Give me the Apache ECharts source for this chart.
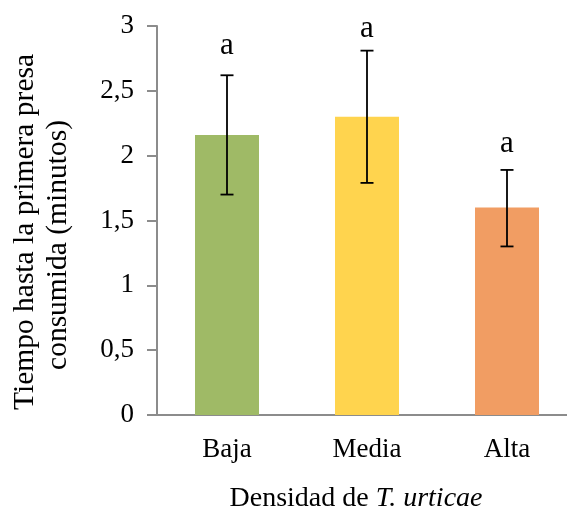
<!DOCTYPE html>
<html>
<head>
<meta charset="utf-8">
<script src="https://cdn.jsdelivr.net/npm/echarts@6/dist/echarts.min.js"></script>
<style>
  html, body { margin: 0; padding: 0; background: #fff; }
  #chart { width: 567px; height: 508px; }
</style>
</head>
<body>
<div id="chart"></div>
<script>
// Densidad de presas y tiempo hasta la primera presa consumida
const categories = ['Baja', 'Media', 'Alta'];
const means = [2.16, 2.30, 1.60];
const errLow = [1.70, 1.79, 1.30];
const errHigh = [2.62, 2.81, 1.89];
const letters = ['a', 'a', 'a'];
const letterLevel = [2.85, 2.98, 2.09];
const barColors = ['#9FBA66', '#FFD44E', '#F19D63'];

const FONT = '"Liberation Serif", "Times New Roman", serif';

const chart = echarts.init(document.getElementById('chart'), null, { renderer: 'canvas' });

const errData = categories.map((c, i) => [i, errLow[i], errHigh[i]]);
const letterData = categories.map((c, i) => [i, letterLevel[i]]);

chart.setOption({
  animation: false,
  backgroundColor: '#ffffff',
  grid: { left: 157, top: 26, width: 420, bottom: 93, containLabel: false, outerBoundsMode: 'none' },
  xAxis: {
    type: 'category',
    data: categories,
    axisLine: { lineStyle: { color: '#8c8c8c', width: 2 } },
    axisTick: { show: false },
    axisLabel: { color: '#000', fontFamily: FONT, fontSize: 27, margin: 21 },
    name: '{n|Densidad de }{i|T. urticae}',
    nameLocation: 'middle',
    nameGap: 70,
    nameTextStyle: {
      padding: [0, 22, 0, 0],
      rich: {
        n: { fontFamily: FONT, fontSize: 28, color: '#000' },
        i: { fontFamily: FONT, fontSize: 28, color: '#000', fontStyle: 'italic' }
      }
    }
  },
  yAxis: {
    type: 'value',
    min: 0,
    max: 3,
    interval: 0.5,
    splitLine: { show: false },
    axisLine: { show: true, lineStyle: { color: '#8c8c8c', width: 2 } },
    axisTick: { show: true, length: 10, lineStyle: { color: '#8c8c8c', width: 2 } },
    axisLabel: {
      color: '#000', fontFamily: FONT, fontSize: 27, margin: 23,
      formatter: v => String(v).replace('.', ',')
    }
  },
  graphic: [
    {
      type: 'text', rotation: Math.PI / 2, x: 25, y: 232,
      style: { text: 'Tiempo hasta la primera presa', font: '29.5px ' + FONT, fill: '#000', textAlign: 'center', textVerticalAlign: 'middle' }
    },
    {
      type: 'text', rotation: Math.PI / 2, x: 58, y: 245,
      style: { text: 'consumida (minutos)', font: '29.5px ' + FONT, fill: '#000', textAlign: 'center', textVerticalAlign: 'middle' }
    }
  ],
  series: [
    {
      type: 'bar',
      data: means.map((v, i) => ({ value: v, itemStyle: { color: barColors[i] } })),
      barWidth: 64
    },
    {
      type: 'custom',
      data: errData,
      z: 10,
      renderItem: function (params, api) {
        const x = api.value(0);
        const lo = api.coord([x, api.value(1)]);
        const hi = api.coord([x, api.value(2)]);
        const half = 6.5;
        const st = { stroke: '#000', lineWidth: 1.8 };
        return {
          type: 'group',
          children: [
            { type: 'line', shape: { x1: lo[0], y1: lo[1], x2: hi[0], y2: hi[1] }, style: st },
            { type: 'line', shape: { x1: hi[0] - half, y1: hi[1], x2: hi[0] + half, y2: hi[1] }, style: st },
            { type: 'line', shape: { x1: lo[0] - half, y1: lo[1], x2: lo[0] + half, y2: lo[1] }, style: st }
          ]
        };
      }
    },
    {
      type: 'custom',
      data: letterData,
      z: 11,
      renderItem: function (params, api) {
        const p = api.coord([api.value(0), api.value(1)]);
        return {
          type: 'text',
          x: p[0], y: p[1],
          style: { text: letters[params.dataIndex], font: '31px ' + FONT, fill: '#000', textAlign: 'center', textVerticalAlign: 'middle' }
        };
      }
    }
  ]
});
</script>
</body>
</html>
